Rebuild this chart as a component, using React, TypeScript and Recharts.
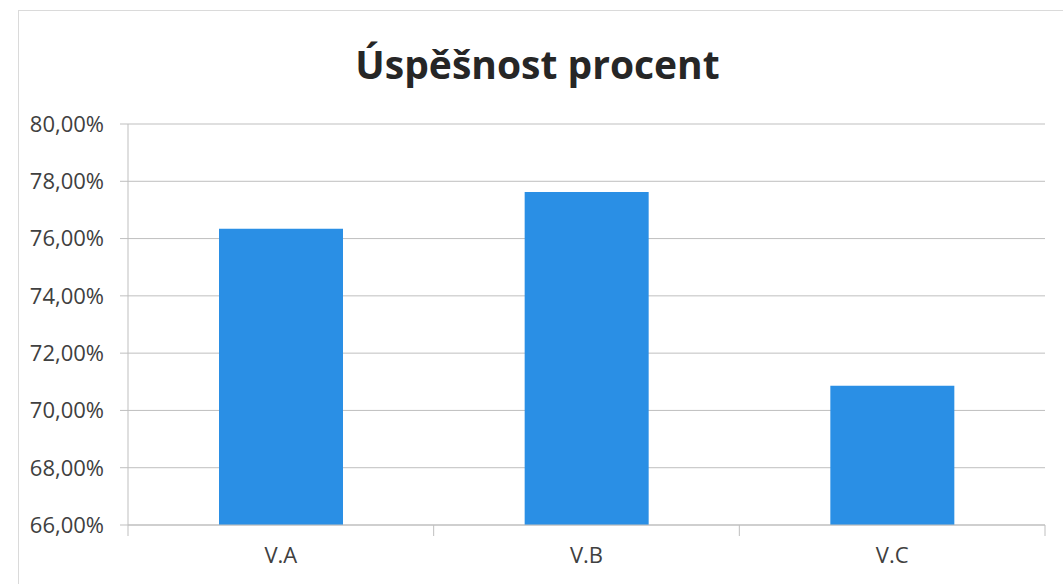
import { BarChart, Bar, XAxis, YAxis, CartesianGrid } from "recharts";

const categories = ["V.A", "V.B", "V.C"];
const successRate = [0.7634, 0.7763, 0.7086];
const yTicks = [0.66, 0.68, 0.7, 0.72, 0.74, 0.76, 0.78, 0.8];

const data = categories.map((name, i) => ({ name, value: successRate[i] }));

const axisColor = "#bfbfbf";
const textColor = "#404040";
const font = "'Open Sans', 'Noto Sans', sans-serif";

const formatPct = (v: number) => (v * 100).toFixed(2).replace(".", ",") + "%";

function CategoryTick(props: any) {
  const { x, y, payload, index } = props;
  const half = payload.offset || 0;
  return (
    <g>
      <line x1={x - half} x2={x - half} y1={y} y2={y + 11} stroke={axisColor} />
      {index === categories.length - 1 && (
        <line x1={x + half} x2={x + half} y1={y} y2={y + 11} stroke={axisColor} />
      )}
      <text x={x} y={y + 30} dy="0.35em" textAnchor="middle" fill={textColor} fontSize={22} fontFamily={font}>
        {payload.value}
      </text>
    </g>
  );
}

export default function App() {
  return (
    <div style={{ position: "absolute", left: 0, top: 0, width: 1063, height: 584, background: "#fff", overflow: "hidden" }}>
      <div style={{ position: "absolute", left: 18, top: 10, width: 1100, height: 620, border: "1px solid #dadada" }} />
      <div
        style={{
          position: "absolute",
          left: 0,
          top: 37,
          width: 1075,
          textAlign: "center",
          fontFamily: font,
          fontWeight: 700,
          fontSize: 39,
          lineHeight: "54px",
          color: "#262626",
        }}
      >
        Úspěšnost procent
      </div>
      <div style={{ position: "absolute", left: 0, top: 0 }}>
        <BarChart width={1063} height={584} data={data} margin={{ top: 124, right: 18, bottom: 29, left: 0 }}>
          <CartesianGrid vertical={false} stroke={axisColor} strokeWidth={1} />
          <XAxis
            dataKey="name"
            height={30}
            tickLine={false}
            tickSize={0}
            tickMargin={0}
            axisLine={{ stroke: axisColor }}
            tick={<CategoryTick />}
            interval={0}
          />
          <YAxis
            width={128}
            domain={[0.66, 0.8]}
            ticks={yTicks}
            tickFormatter={formatPct}
            tickSize={8}
            tickMargin={16}
            tickLine={{ stroke: axisColor }}
            axisLine={{ stroke: axisColor }}
            tick={{ fill: textColor, fontSize: 22, fontFamily: font }}
            allowDataOverflow
          />
          <Bar dataKey="value" fill="#2a8fe5" barSize={124} isAnimationActive={false} />
        </BarChart>
      </div>
    </div>
  );
}
